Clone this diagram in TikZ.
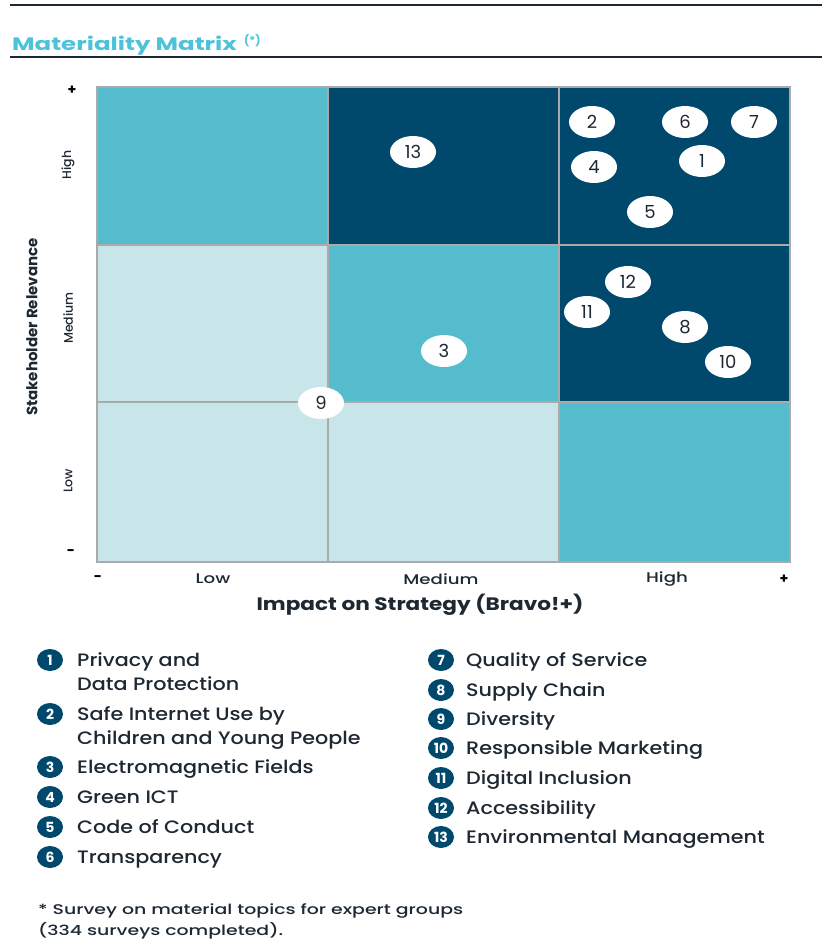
\documentclass[tikz,border=0pt]{standalone}
\usepackage{fontspec}
\setmainfont{Poppins}
\newfontfamily\medfont{Poppins Medium}
\usetikzlibrary{shapes.geometric}
\definecolor{navy}{RGB}{0,73,109}
\definecolor{midcyan}{RGB}{85,188,206}
\definecolor{lightcyan}{RGB}{200,229,234}
\definecolor{titlecyan}{RGB}{77,195,217}
\definecolor{gridgray}{RGB}{170,170,170}
\definecolor{ink}{RGB}{30,40,50}
\newcommand{\hstretch}[2]{\scalebox{#1}[1]{#2}}
\begin{document}
\begin{tikzpicture}[x=1pt,y=-1pt,
  bub/.style={ellipse,fill=white,minimum width=46pt,minimum height=32pt,inner sep=0pt,text=ink,font=\fontsize{18}{18}\selectfont},
  legnum/.style={ellipse,fill=navy,minimum width=26pt,minimum height=22pt,inner sep=0pt,text=white,font=\bfseries\fontsize{14}{14}\selectfont},
  legtxt/.style={anchor=base west,inner sep=0pt,text=ink,font=\medfont\fontsize{18}{18}\selectfont},
  ylab/.style={rotate=90,inner sep=0pt,text=ink,font=\medfont\fontsize{12.5}{12.5}\selectfont},
  xlab/.style={inner sep=0pt,text=ink,font=\medfont\fontsize{14}{14}\selectfont},
  pm/.style={inner sep=0pt,text=black,font=\bfseries\fontsize{14}{14}\selectfont},
  foot/.style={anchor=base west,inner sep=0pt,text=ink,font=\medfont\fontsize{14}{14}\selectfont},
  gridline/.style={draw=gridgray,line width=2pt}]
\useasboundingbox (0,0) rectangle (822,944);
% header rules and title
\draw[line width=2pt,ink] (10,5) -- (822,5);
\draw[line width=2.5pt,ink] (10,57) -- (822,57);
\node[anchor=base west,inner sep=0pt,text=titlecyan,font=\bfseries\fontsize{18}{18}\selectfont] (title) at (12,51) {\hstretch{1.36}{Materiality Matrix}};
\node[anchor=base west,inner sep=0pt,text=titlecyan,font=\bfseries\fontsize{11}{11}\selectfont] (titlestar) at (244,45) {(*)};
% cells
\fill[midcyan]   (97,87) rectangle (328,245);
\fill[navy]      (328,87) rectangle (559,245);
\fill[navy]      (559,87) rectangle (790,245);
\fill[lightcyan] (97,245) rectangle (328,402);
\fill[midcyan]   (328,245) rectangle (559,402);
\fill[navy]      (559,245) rectangle (790,402);
\fill[lightcyan] (97,402) rectangle (328,562);
\fill[lightcyan] (328,402) rectangle (559,562);
\fill[midcyan]   (559,402) rectangle (790,562);
% grid
\draw[gridline] (97,87) rectangle (790,562);
\draw[gridline] (328,87) -- (328,562);
\draw[gridline] (559,87) -- (559,562);
\draw[gridline] (97,245) -- (790,245);
\draw[gridline] (97,402) -- (790,402);
% bubbles
\node[bub] (b13) at (413,152) {13};
\node[bub] (b2) at (592,122) {2};
\node[bub] (b6) at (685,122) {6};
\node[bub] (b7) at (754,122) {7};
\node[bub] (b4) at (594,167) {4};
\node[bub] (b1) at (702,161) {1};
\node[bub] (b5) at (650,212) {5};
\node[bub] (b12) at (628,282) {12};
\node[bub] (b11) at (587,312) {11};
\node[bub] (b8) at (685,327) {8};
\node[bub] (b10) at (728,362) {10};
\node[bub] (b3) at (444,351) {3};
\node[bub] (b9) at (321,403) {9};
% y axis
\node[pm] (yplus) at (72,90) {+};
\node[pm] (yminus) at (71,553) {-};
\node[ylab] (yhigh) at (68,165) {High};
\node[ylab] (ymed) at (68,318) {Medium};
\node[ylab] (ylow) at (68,481) {Low};
\node[rotate=90,inner sep=0pt,text=ink,font=\bfseries\fontsize{15}{15}\selectfont] (ytitle) at (32,327) {Stakeholder Relevance};
% x axis
\node[pm] (xminus) at (98,579) {-};
\node[xlab] (xlow) at (213,579) {\hstretch{1.3}{Low}};
\node[xlab] (xmed) at (441,579) {\hstretch{1.3}{Medium}};
\node[xlab] (xhigh) at (667,579) {\hstretch{1.3}{High}};
\node[pm] (xplus) at (784,579) {+};
\node[inner sep=0pt,text=ink,font=\bfseries\fontsize{18}{18}\selectfont] (xtitle) at (420,605) {\hstretch{1.2}{Impact on Strategy (Bravo!+)}};
% legend left
\node[legnum] (l1) at (50,660) {1};
\node[legtxt] (t1a) at (77,666) {\hstretch{1.15}{Privacy and}};
\node[legtxt] (t1b) at (77,690) {\hstretch{1.15}{Data Protection}};
\node[legnum] (l2) at (50,714) {2};
\node[legtxt] (t2a) at (77,720) {\hstretch{1.15}{Safe Internet Use by}};
\node[legtxt] (t2b) at (77,744) {\hstretch{1.15}{Children and Young People}};
\node[legnum] (l3) at (50,767) {3};
\node[legtxt] (t3) at (77,773) {\hstretch{1.15}{Electromagnetic Fields}};
\node[legnum] (l4) at (50,797) {4};
\node[legtxt] (t4) at (77,803) {\hstretch{1.15}{Green ICT}};
\node[legnum] (l5) at (50,827) {5};
\node[legtxt] (t5) at (77,833) {\hstretch{1.15}{Code of Conduct}};
\node[legnum] (l6) at (50,857) {6};
\node[legtxt] (t6) at (77,863) {\hstretch{1.15}{Transparency}};
% legend right
\node[legnum] (l7) at (441,660) {7};
\node[legtxt] (t7) at (466,666) {\hstretch{1.15}{Quality of Service}};
\node[legnum] (l8) at (441,690) {8};
\node[legtxt] (t8) at (466,696) {\hstretch{1.15}{Supply Chain}};
\node[legnum] (l9) at (441,719) {9};
\node[legtxt] (t9) at (466,725) {\hstretch{1.15}{Diversity}};
\node[legnum] (l10) at (441,748) {10};
\node[legtxt] (t10) at (466,754) {\hstretch{1.15}{Responsible Marketing}};
\node[legnum] (l11) at (441,778) {11};
\node[legtxt] (t11) at (466,784) {\hstretch{1.15}{Digital Inclusion}};
\node[legnum] (l12) at (441,808) {12};
\node[legtxt] (t12) at (466,814) {\hstretch{1.15}{Accessibility}};
\node[legnum] (l13) at (441,837) {13};
\node[legtxt] (t13) at (466,843) {\hstretch{1.15}{Environmental Management}};
% footnote
\node[foot] (fn1) at (38,914) {\hstretch{1.35}{* Survey on material topics for expert groups}};
\node[foot] (fn2) at (38,935) {\hstretch{1.35}{(334 surveys completed).}};
\end{tikzpicture}
\end{document}
